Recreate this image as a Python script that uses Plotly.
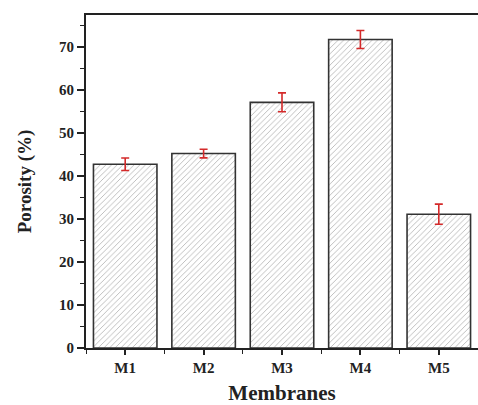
import plotly.graph_objects as go

categories = ["M1", "M2", "M3", "M4", "M5"]
porosity = [42.7, 45.2, 57.1, 71.7, 31.1]
errors = [1.45, 1.0, 2.2, 2.1, 2.35]

FONT = "Liberation Serif"
xpos = list(range(len(categories)))

fig = go.Figure()
fig.add_trace(go.Bar(
    x=xpos, y=porosity, width=0.81,
    marker=dict(color="white",
                line=dict(color="#333333", width=1.6),
                pattern=dict(shape="/", fgcolor="#6f6f6f", bgcolor="white",
                             size=4, solidity=0.22)),
    error_y=dict(type="data", array=errors, visible=True,
                 color="#d42a2a", thickness=1.6, width=4),
    showlegend=False,
))

fig.update_layout(
    width=478, height=405,
    margin=dict(l=86, r=0, t=15, b=57),
    plot_bgcolor="white", paper_bgcolor="white",
    font=dict(family=FONT, color="#222222", size=15, weight="bold"),
)
fig.update_xaxes(
    range=[-0.5, 4.5], tickmode="array", tickvals=xpos, ticktext=categories,
    showline=True, linecolor="#222222", linewidth=2, mirror=True,
    ticks="outside", ticklen=5, tickwidth=1.5, tickcolor="#222222",
    minor=dict(tickmode="linear", tick0=0.5, dtick=1, ticks="outside",
               ticklen=4, tickwidth=1.2, tickcolor="#222222"),
    showgrid=False, zeroline=False,
    title=dict(text="Membranes", font=dict(size=21, family=FONT, weight="bold"), standoff=15),
    tickfont=dict(size=15, family=FONT, weight="bold"),
)
fig.update_yaxes(
    range=[0, 77.4], dtick=10, tick0=0,
    showline=True, linecolor="#222222", linewidth=2,
    ticks="outside", ticklen=7, tickwidth=1.5, tickcolor="#222222",
    minor=dict(dtick=5, tick0=0, ticks="outside", ticklen=4, tickwidth=1.2,
               tickcolor="#222222"),
    showgrid=False, zeroline=False,
    title=dict(text="Porosity (%)", font=dict(size=19, family=FONT, weight="bold"), standoff=22),
    tickfont=dict(size=15, family=FONT, weight="bold"),
)

fig.write_html("out.html")
